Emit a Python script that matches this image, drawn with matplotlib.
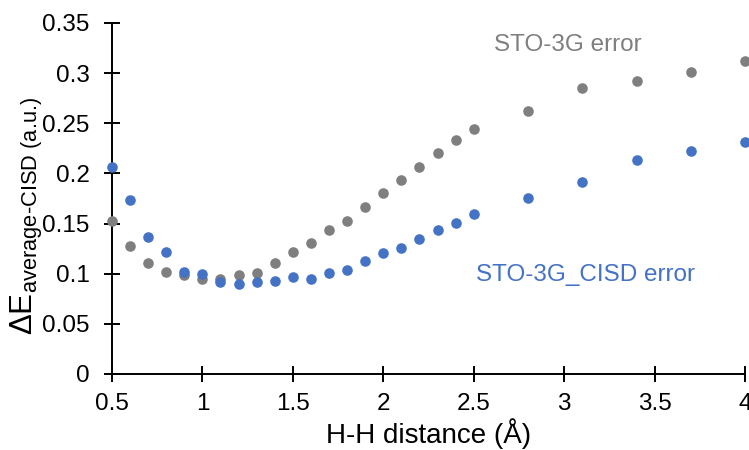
import matplotlib
matplotlib.use("Agg")
import matplotlib.pyplot as plt

# H-H distance (Angstrom)
distance = [0.5, 0.6, 0.7, 0.8, 0.9, 1.0, 1.1, 1.2, 1.3, 1.4, 1.5, 1.6, 1.7,
            1.8, 1.9, 2.0, 2.1, 2.2, 2.3, 2.4, 2.5, 2.8, 3.1, 3.4, 3.7, 4.0]

# errors vs CISD (a.u.)
sto3g_err = [0.153, 0.128, 0.111, 0.102, 0.099, 0.095, 0.095, 0.099, 0.101,
             0.111, 0.122, 0.131, 0.144, 0.153, 0.166, 0.180, 0.193, 0.206,
             0.220, 0.233, 0.244, 0.262, 0.285, 0.292, 0.301, 0.312]
sto3g_cisd_err = [0.206, 0.173, 0.137, 0.122, 0.102, 0.100, 0.092, 0.090, 0.092,
                  0.093, 0.097, 0.095, 0.101, 0.104, 0.113, 0.121, 0.126, 0.135,
                  0.144, 0.151, 0.159, 0.175, 0.191, 0.213, 0.222, 0.231]

xticks = [0.5, 1, 1.5, 2, 2.5, 3, 3.5, 4]
xtick_labels = ["0.5", "1", "1.5", "2", "2.5", "3", "3.5", "4"]
yticks = [0, 0.05, 0.1, 0.15, 0.2, 0.25, 0.3, 0.35]
ytick_labels = ["0", "0.05", "0.1", "0.15", "0.2", "0.25", "0.3", "0.35"]

gray = "#7f7f7f"
blue = "#4472c4"

plt.rcParams["font.family"] = ["Liberation Sans", "DejaVu Sans"]
plt.rcParams["mathtext.fontset"] = "custom"
plt.rcParams["mathtext.rm"] = "Liberation Sans"
plt.rcParams["mathtext.it"] = "Liberation Sans:italic"

fig = plt.figure(figsize=(7.49, 4.5), dpi=100)
ax = fig.add_axes([0.1495, 0.169, 0.8452, 0.78])

ax.scatter(distance, sto3g_err, s=58, color=gray, linewidths=0, clip_on=False, zorder=3)
ax.scatter(distance, sto3g_cisd_err, s=58, color=blue, linewidths=0, clip_on=False, zorder=3)

ax.set_xlim(0.5, 4)
ax.set_ylim(0, 0.35)
ax.set_xticks(xticks)
ax.set_xticklabels(xtick_labels)
ax.set_yticks(yticks)
ax.set_yticklabels(ytick_labels)

for side in ["top", "right"]:
    ax.spines[side].set_visible(False)
for side in ["left", "bottom"]:
    ax.spines[side].set_linewidth(1.4)
    ax.spines[side].set_color("black")

ax.tick_params(direction="inout", length=12, width=1.4, labelsize=17.5, colors="black")
ax.tick_params(axis="x", pad=8)
ax.tick_params(axis="y", pad=10)

ax.set_xlabel("H-H distance (Å)", fontsize=20, labelpad=2)
ax.set_ylabel(r"$\Delta\mathrm{E}_{\text{average-CISD (a.u.)}}$", fontsize=22.5)
ax.yaxis.set_label_coords(-0.106, 0.45)

ax.text(2.61, 0.328, "STO-3G error", color=gray, fontsize=17.5, va="center", ha="left")
ax.text(2.51, 0.099, "STO-3G_CISD error", color=blue, fontsize=17.5, va="center", ha="left")

fig.savefig("out.png", dpi=100)
